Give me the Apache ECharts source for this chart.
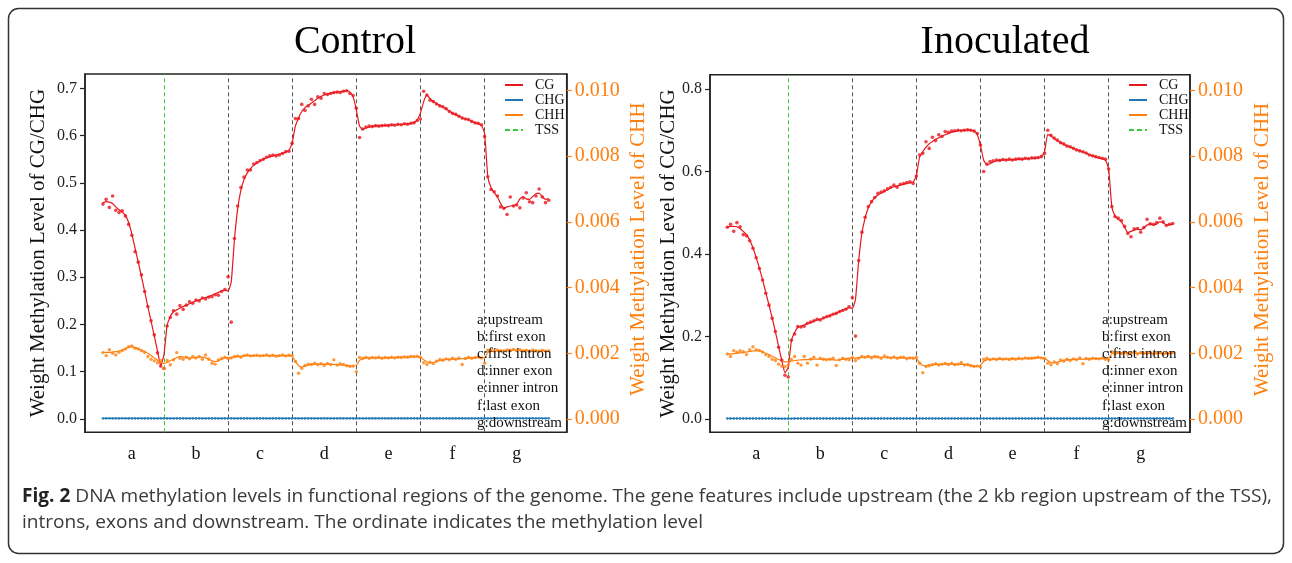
<!DOCTYPE html>
<html>
<head>
<meta charset="utf-8">
<title>DNA methylation levels in functional regions</title>
<script src="https://cdn.jsdelivr.net/npm/echarts@6/dist/echarts.min.js"></script>
<style>
  html, body { margin: 0; padding: 0; background: #ffffff; }
  #main { width: 1292px; height: 563px; }
</style>
</head>
<body>
<div id="main"></div>
<script>
// ---- Region layout along the gene model (bins 1..140, 20 bins per region) ----
const regionLetters = ['a', 'b', 'c', 'd', 'e', 'f', 'g'];
const regionNames = ['upstream', 'first exon', 'first intron', 'inner exon', 'inner intron', 'last exon', 'downstream'];
const regionCenters = [10, 30, 50, 70, 90, 110, 130];
const regionBoundaries = [20, 40, 60, 80, 100, 120];
const tssBin = 20;

// ---- Axis ticks ----
const controlCgTicks = [0, 0.1, 0.2, 0.3, 0.4, 0.5, 0.6, 0.7];
const inocCgTicks = [0, 0.2, 0.4, 0.6, 0.8];
const chhTicks = [0, 0.002, 0.004, 0.006, 0.008, 0.010];

// ---- Control: CG (measured points and fitted curve) ----
const ctrlCg = [
  0.455,0.465,0.448,0.472,0.442,0.437,0.441,0.430,0.412,0.389,0.354,0.332,0.305,0.270,0.238,0.208,0.178,0.140,0.112,0.107,
  0.197,0.215,0.229,0.222,0.240,0.232,0.241,0.248,0.245,0.252,0.250,0.256,0.254,0.258,0.259,0.263,0.262,0.270,0.274,0.301,
  0.205,0.382,0.451,0.490,0.512,0.527,0.527,0.540,0.543,0.547,0.550,0.554,0.557,0.559,0.557,0.559,0.562,0.566,0.567,0.584,
  0.636,0.636,0.666,0.653,0.663,0.677,0.666,0.682,0.679,0.689,0.687,0.689,0.691,0.692,0.691,0.694,0.695,0.689,0.685,0.658,
  0.596,0.614,0.618,0.620,0.619,0.621,0.620,0.621,0.622,0.621,0.623,0.622,0.624,0.623,0.625,0.624,0.626,0.627,0.632,0.635,
  0.694,0.686,0.675,0.672,0.667,0.663,0.661,0.657,0.651,0.647,0.645,0.641,0.637,0.635,0.634,0.630,0.627,0.626,0.623,0.598,
  0.513,0.486,0.481,0.472,0.449,0.446,0.433,0.470,0.451,0.453,0.447,0.468,0.479,0.460,0.458,0.472,0.487,0.470,0.458,0.463
];
const ctrlCgFit = [
  0.458,0.460,0.459,0.456,0.449,0.443,0.438,0.431,0.416,0.392,0.362,0.332,0.302,0.270,0.238,0.207,0.176,0.144,0.113,0.135,
  0.198,0.217,0.227,0.231,0.235,0.238,0.241,0.244,0.247,0.250,0.252,0.255,0.257,0.259,0.262,0.265,0.268,0.271,0.273,0.271,
  0.290,0.380,0.445,0.484,0.507,0.521,0.530,0.537,0.542,0.546,0.550,0.553,0.555,0.557,0.559,0.561,0.563,0.565,0.569,0.585,
  0.620,0.638,0.651,0.659,0.664,0.669,0.674,0.679,0.683,0.686,0.688,0.690,0.691,0.692,0.693,0.694,0.695,0.692,0.682,0.655,
  0.620,0.613,0.616,0.618,0.620,0.620,0.621,0.621,0.621,0.622,0.622,0.623,0.623,0.624,0.624,0.625,0.626,0.628,0.633,0.648,
  0.672,0.686,0.678,0.672,0.668,0.664,0.660,0.656,0.652,0.648,0.644,0.641,0.638,0.635,0.633,0.630,0.627,0.625,0.622,0.605,
  0.513,0.490,0.479,0.470,0.456,0.446,0.449,0.451,0.452,0.455,0.466,0.471,0.466,0.465,0.471,0.477,0.478,0.471,0.465,0.466
];

// ---- Control: CHG ----
const ctrlChg = [
  0.0012,0.0012,0.0013,0.0012,0.0012,0.0012,0.0013,0.0012,0.0012,0.0012,0.0012,0.0012,0.0013,0.0012,0.0012,0.0012,0.0012,0.0011,0.0011,0.0011,
  0.0011,0.0012,0.0012,0.0012,0.0012,0.0012,0.0012,0.0012,0.0012,0.0012,0.0012,0.0012,0.0012,0.0012,0.0012,0.0012,0.0012,0.0012,0.0012,0.0012,
  0.0012,0.0012,0.0012,0.0012,0.0012,0.0012,0.0012,0.0012,0.0012,0.0012,0.0012,0.0012,0.0012,0.0012,0.0012,0.0012,0.0012,0.0012,0.0012,0.0012,
  0.0012,0.0012,0.0012,0.0012,0.0012,0.0012,0.0012,0.0012,0.0012,0.0012,0.0012,0.0012,0.0012,0.0012,0.0012,0.0012,0.0012,0.0012,0.0012,0.0012,
  0.0012,0.0012,0.0012,0.0012,0.0012,0.0012,0.0012,0.0012,0.0012,0.0012,0.0012,0.0012,0.0012,0.0012,0.0012,0.0012,0.0012,0.0012,0.0012,0.0012,
  0.0012,0.0012,0.0012,0.0012,0.0012,0.0012,0.0012,0.0012,0.0012,0.0012,0.0012,0.0012,0.0012,0.0012,0.0012,0.0012,0.0012,0.0012,0.0012,0.0012,
  0.0013,0.0013,0.0013,0.0013,0.0013,0.0013,0.0013,0.0013,0.0013,0.0013,0.0013,0.0013,0.0013,0.0013,0.0013,0.0013,0.0013,0.0013,0.0013,0.0013
];

// ---- Control: CHH (right axis) ----
const ctrlChh = [
  0.00202,0.00193,0.00211,0.00200,0.00195,0.00203,0.00208,0.00213,0.00220,0.00222,0.00215,0.00213,0.00208,0.00203,0.00190,0.00182,0.00177,0.00171,0.00178,0.00154,
  0.00178,0.00165,0.00180,0.00202,0.00185,0.00182,0.00188,0.00183,0.00190,0.00186,0.00190,0.00182,0.00195,0.00182,0.00170,0.00167,0.00180,0.00184,0.00188,0.00184,
  0.00186,0.00190,0.00192,0.00188,0.00193,0.00195,0.00192,0.00193,0.00194,0.00192,0.00193,0.00195,0.00192,0.00194,0.00191,0.00193,0.00195,0.00192,0.00194,0.00193,
  0.00175,0.00139,0.00154,0.00163,0.00167,0.00166,0.00170,0.00165,0.00168,0.00163,0.00169,0.00166,0.00180,0.00164,0.00168,0.00166,0.00162,0.00160,0.00161,0.00144,
  0.00187,0.00184,0.00188,0.00185,0.00187,0.00186,0.00188,0.00185,0.00187,0.00186,0.00188,0.00186,0.00188,0.00187,0.00189,0.00188,0.00190,0.00190,0.00191,0.00187,
  0.00171,0.00166,0.00173,0.00169,0.00176,0.00181,0.00179,0.00183,0.00180,0.00185,0.00182,0.00186,0.00166,0.00184,0.00188,0.00185,0.00187,0.00189,0.00186,0.00170,
  0.00209,0.00211,0.00207,0.00210,0.00208,0.00206,0.00210,0.00209,0.00212,0.00208,0.00211,0.00207,0.00209,0.00205,0.00210,0.00208,0.00206,0.00209,0.00207,0.00208
];
const ctrlChhFit = [
  0.00203,0.00203,0.00203,0.00204,0.00205,0.00207,0.00210,0.00214,0.00218,0.00220,0.00218,0.00214,0.00210,0.00205,0.00200,0.00193,0.00186,0.00179,0.00173,0.00169,
  0.00172,0.00177,0.00182,0.00187,0.00190,0.00189,0.00187,0.00186,0.00186,0.00187,0.00188,0.00188,0.00186,0.00182,0.00177,0.00175,0.00177,0.00182,0.00186,0.00187,
  0.00187,0.00189,0.00190,0.00191,0.00192,0.00193,0.00193,0.00193,0.00193,0.00193,0.00193,0.00193,0.00193,0.00193,0.00193,0.00193,0.00193,0.00193,0.00193,0.00190,
  0.00176,0.00162,0.00158,0.00161,0.00164,0.00166,0.00167,0.00167,0.00167,0.00167,0.00166,0.00166,0.00166,0.00165,0.00165,0.00164,0.00163,0.00162,0.00161,0.00164,
  0.00178,0.00184,0.00186,0.00186,0.00186,0.00186,0.00186,0.00186,0.00186,0.00187,0.00187,0.00187,0.00188,0.00188,0.00188,0.00189,0.00189,0.00189,0.00190,0.00188,
  0.00180,0.00174,0.00171,0.00172,0.00175,0.00178,0.00180,0.00181,0.00182,0.00182,0.00183,0.00183,0.00184,0.00184,0.00185,0.00186,0.00186,0.00187,0.00187,0.00186,
  0.00202,0.00206,0.00207,0.00208,0.00208,0.00209,0.00209,0.00209,0.00210,0.00210,0.00209,0.00209,0.00208,0.00208,0.00208,0.00208,0.00207,0.00207,0.00207,0.00207
];

// ---- Inoculated: CG ----
const inocCg = [
  0.465,0.472,0.455,0.476,0.466,0.447,0.444,0.432,0.414,0.391,0.365,0.337,0.305,0.276,0.244,0.212,0.174,0.143,0.106,0.102,
  0.191,0.206,0.224,0.223,0.225,0.232,0.235,0.238,0.242,0.240,0.245,0.248,0.250,0.254,0.256,0.260,0.263,0.266,0.272,0.294,
  0.201,0.384,0.453,0.489,0.515,0.527,0.537,0.547,0.550,0.553,0.558,0.562,0.567,0.562,0.569,0.571,0.573,0.575,0.571,0.589,
  0.640,0.644,0.672,0.656,0.683,0.675,0.689,0.685,0.697,0.695,0.698,0.699,0.700,0.699,0.700,0.701,0.700,0.698,0.692,0.664,
  0.600,0.618,0.624,0.626,0.628,0.627,0.629,0.628,0.630,0.628,0.630,0.631,0.630,0.632,0.631,0.633,0.633,0.634,0.636,0.644,
  0.700,0.688,0.681,0.676,0.670,0.667,0.662,0.660,0.656,0.652,0.650,0.648,0.645,0.640,0.638,0.636,0.634,0.632,0.630,0.606,
  0.515,0.491,0.487,0.481,0.467,0.450,0.442,0.461,0.462,0.453,0.464,0.484,0.473,0.472,0.476,0.487,0.478,0.469,0.472,0.474
];
const inocCgFit = [
  0.466,0.467,0.467,0.466,0.462,0.455,0.447,0.434,0.415,0.392,0.366,0.338,0.307,0.277,0.245,0.212,0.176,0.142,0.112,0.125,
  0.190,0.210,0.222,0.225,0.228,0.231,0.234,0.237,0.240,0.242,0.245,0.248,0.251,0.254,0.257,0.261,0.264,0.267,0.270,0.268,
  0.290,0.384,0.450,0.487,0.512,0.526,0.536,0.543,0.548,0.552,0.556,0.560,0.563,0.565,0.567,0.569,0.571,0.573,0.574,0.590,
  0.635,0.648,0.659,0.667,0.673,0.678,0.682,0.686,0.689,0.692,0.695,0.697,0.699,0.700,0.700,0.701,0.700,0.699,0.690,0.664,
  0.628,0.616,0.619,0.623,0.626,0.627,0.628,0.628,0.628,0.629,0.629,0.630,0.630,0.631,0.631,0.632,0.632,0.633,0.636,0.648,
  0.690,0.686,0.680,0.675,0.670,0.666,0.662,0.659,0.656,0.653,0.650,0.647,0.644,0.641,0.638,0.635,0.633,0.631,0.628,0.607,
  0.515,0.492,0.484,0.478,0.465,0.452,0.455,0.458,0.460,0.459,0.464,0.470,0.473,0.470,0.473,0.478,0.476,0.471,0.471,0.472
];

// ---- Inoculated: CHG ----
const inocChg = [
  0.0012,0.0012,0.0012,0.0012,0.0012,0.0012,0.0012,0.0012,0.0012,0.0012,0.0012,0.0012,0.0012,0.0012,0.0012,0.0012,0.0011,0.0011,0.0011,0.0011,
  0.0011,0.0012,0.0012,0.0012,0.0012,0.0012,0.0012,0.0012,0.0012,0.0012,0.0012,0.0012,0.0012,0.0012,0.0012,0.0012,0.0012,0.0012,0.0012,0.0012,
  0.0012,0.0012,0.0012,0.0012,0.0012,0.0012,0.0012,0.0012,0.0012,0.0012,0.0012,0.0012,0.0012,0.0012,0.0012,0.0012,0.0012,0.0012,0.0012,0.0012,
  0.0012,0.0012,0.0012,0.0012,0.0012,0.0012,0.0012,0.0012,0.0012,0.0012,0.0012,0.0012,0.0012,0.0012,0.0012,0.0012,0.0012,0.0012,0.0012,0.0012,
  0.0012,0.0012,0.0012,0.0012,0.0012,0.0012,0.0012,0.0012,0.0012,0.0012,0.0012,0.0012,0.0012,0.0012,0.0012,0.0012,0.0012,0.0012,0.0012,0.0012,
  0.0012,0.0012,0.0012,0.0012,0.0012,0.0012,0.0012,0.0012,0.0012,0.0012,0.0012,0.0012,0.0012,0.0012,0.0012,0.0012,0.0012,0.0012,0.0012,0.0012,
  0.0013,0.0013,0.0013,0.0013,0.0013,0.0013,0.0013,0.0013,0.0013,0.0013,0.0013,0.0013,0.0013,0.0013,0.0013,0.0013,0.0013,0.0013,0.0013,0.0013
];

// ---- Inoculated: CHH (right axis) ----
const inocChh = [
  0.00198,0.00190,0.00208,0.00203,0.00208,0.00205,0.00196,0.00211,0.00220,0.00211,0.00209,0.00204,0.00196,0.00190,0.00182,0.00178,0.00167,0.00161,0.00159,0.00164,
  0.00181,0.00190,0.00170,0.00164,0.00190,0.00170,0.00182,0.00188,0.00164,0.00185,0.00182,0.00180,0.00182,0.00185,0.00163,0.00180,0.00185,0.00182,0.00180,0.00187,
  0.00178,0.00185,0.00190,0.00188,0.00191,0.00186,0.00190,0.00189,0.00185,0.00192,0.00188,0.00186,0.00189,0.00185,0.00187,0.00188,0.00183,0.00186,0.00185,0.00188,
  0.00170,0.00141,0.00160,0.00162,0.00165,0.00168,0.00164,0.00167,0.00169,0.00166,0.00170,0.00165,0.00167,0.00172,0.00164,0.00166,0.00162,0.00160,0.00161,0.00158,
  0.00182,0.00185,0.00180,0.00183,0.00181,0.00184,0.00182,0.00183,0.00181,0.00184,0.00182,0.00185,0.00183,0.00186,0.00184,0.00185,0.00186,0.00188,0.00186,0.00184,
  0.00170,0.00165,0.00174,0.00168,0.00180,0.00176,0.00182,0.00178,0.00183,0.00180,0.00186,0.00168,0.00184,0.00182,0.00185,0.00184,0.00183,0.00186,0.00182,0.00180,
  0.00205,0.00198,0.00202,0.00199,0.00203,0.00197,0.00201,0.00204,0.00198,0.00202,0.00200,0.00199,0.00203,0.00198,0.00201,0.00202,0.00197,0.00200,0.00201,0.00202
];
const inocChhFit = [
  0.00197,0.00198,0.00199,0.00200,0.00201,0.00202,0.00204,0.00206,0.00207,0.00208,0.00207,0.00204,0.00200,0.00196,0.00191,0.00186,0.00181,0.00177,0.00174,0.00174,
  0.00176,0.00178,0.00179,0.00180,0.00181,0.00181,0.00182,0.00182,0.00182,0.00182,0.00182,0.00182,0.00181,0.00180,0.00179,0.00180,0.00182,0.00184,0.00185,0.00184,
  0.00185,0.00187,0.00188,0.00188,0.00189,0.00189,0.00189,0.00188,0.00188,0.00188,0.00188,0.00187,0.00187,0.00187,0.00187,0.00186,0.00186,0.00186,0.00185,0.00184,
  0.00172,0.00163,0.00162,0.00164,0.00165,0.00166,0.00166,0.00166,0.00167,0.00167,0.00167,0.00166,0.00166,0.00166,0.00166,0.00165,0.00163,0.00161,0.00161,0.00164,
  0.00175,0.00180,0.00182,0.00182,0.00182,0.00182,0.00182,0.00182,0.00183,0.00183,0.00183,0.00183,0.00184,0.00184,0.00185,0.00185,0.00186,0.00186,0.00187,0.00185,
  0.00178,0.00172,0.00171,0.00173,0.00176,0.00179,0.00180,0.00181,0.00181,0.00182,0.00182,0.00182,0.00183,0.00183,0.00184,0.00184,0.00184,0.00184,0.00184,0.00185,
  0.00199,0.00201,0.00201,0.00201,0.00201,0.00201,0.00201,0.00201,0.00200,0.00200,0.00200,0.00200,0.00200,0.00200,0.00200,0.00200,0.00200,0.00200,0.00200,0.00200
];

// ---- Figure caption ----
const captionLabel = 'Fig. 2';
const captionLine1 = 'DNA methylation levels in functional regions of the genome. The gene features include upstream (the 2 kb region upstream of the TSS),';
const captionLine2 = 'introns, exons and downstream. The ordinate indicates the methylation level';

// ---- Styling ----
const SERIF = '"Liberation Serif", "DejaVu Serif", serif';
const SANS = '"Liberation Sans Narrow", "Open Sans", "Noto Sans", sans-serif';
const CG_COLOR = '#e8161d';
const CHG_COLOR = '#1f77b4';
const CHH_COLOR = '#ff7f0e';
const TSS_COLOR = '#3dc43d';
const FRAME_COLOR = '#222222';

const panels = [
  {
    title: 'Control', titleX: 355,
    grid: { left: 85, top: 74, width: 481.7, height: 358.3 },
    xRange: [-4.6, 145.6],
    cgRange: [-0.0282, 0.7304], cgTicks: controlCgTicks,
    chhRange: [-0.000405, 0.0105],
    cg: ctrlCg, cgFit: ctrlCgFit, chg: ctrlChg, chh: ctrlChh, chhFit: ctrlChhFit,
    leftNameX: 38, rightNameX: 638, legendLeft: 504, noteLeft: 477
  },
  {
    title: 'Inoculated', titleX: 1005,
    grid: { left: 710, top: 74.7, width: 480, height: 357.6 },
    xRange: [-4.4, 145.4],
    cgRange: [-0.0322, 0.8347], cgTicks: inocCgTicks,
    chhRange: [-0.000405, 0.01048],
    cg: inocCg, cgFit: inocCgFit, chg: inocChg, chh: inocChh, chhFit: inocChhFit,
    leftNameX: 668, rightNameX: 1262, legendLeft: 1128, noteLeft: 1102
  }
];

const toPairs = arr => arr.map((v, i) => [i + 1, v]);

const grids = [], xAxes = [], yAxes = [], series = [], legends = [], graphics = [];

panels.forEach((p, k) => {
  grids.push(Object.assign({ show: true, borderColor: FRAME_COLOR, borderWidth: 1.5, backgroundColor: 'transparent', containLabel: false }, p.grid));

  xAxes.push({
    type: 'value', gridIndex: k, min: p.xRange[0], max: p.xRange[1],
    axisLine: { show: false }, axisTick: { show: false }, splitLine: { show: false },
    axisLabel: {
      customValues: regionCenters,
      formatter: v => regionLetters[regionCenters.indexOf(v)] || '',
      fontFamily: SERIF, fontSize: 18, color: '#111', margin: 13
    }
  });

  yAxes.push({
    type: 'value', gridIndex: k, position: 'left', min: p.cgRange[0], max: p.cgRange[1],
    axisLine: { show: true, onZero: false, lineStyle: { color: FRAME_COLOR, width: 1.5 } },
    splitLine: { show: false },
    axisTick: { show: true, inside: false, customValues: p.cgTicks, length: 5, lineStyle: { color: FRAME_COLOR, width: 1.2 } },
    axisLabel: { customValues: p.cgTicks, formatter: v => v.toFixed(1), fontFamily: SERIF, fontSize: 16, color: '#222', margin: 8 }
  });
  yAxes.push({
    type: 'value', gridIndex: k, position: 'right', min: p.chhRange[0], max: p.chhRange[1],
    axisLine: { show: true, onZero: false, lineStyle: { color: FRAME_COLOR, width: 1.5 } },
    splitLine: { show: false },
    axisTick: { show: true, inside: false, customValues: chhTicks, length: 5, lineStyle: { color: CHH_COLOR, width: 1.2 } },
    axisLabel: { customValues: chhTicks, formatter: v => v.toFixed(3), fontFamily: SERIF, fontSize: 20, color: CHH_COLOR, margin: 8 }
  });

  const yl = 2 * k, yr = 2 * k + 1;

  // Region boundaries (TSS in green) drawn with the CG curve
  series.push({
    name: 'CG', type: 'line', xAxisIndex: k, yAxisIndex: yl, data: toPairs(p.cgFit),
    symbol: 'none', smooth: 0.15, z: 4,
    lineStyle: { color: CG_COLOR, width: 1.2 }, itemStyle: { color: CG_COLOR },
    markLine: {
      silent: true, symbol: ['none', 'none'], label: { show: false }, z: 1,
      data: regionBoundaries.map(b => ({
        xAxis: b,
        lineStyle: { color: b === tssBin ? TSS_COLOR : '#555555', type: [4, 3], width: 1 }
      }))
    }
  });
  series.push({
    name: 'CG points', type: 'scatter', xAxisIndex: k, yAxisIndex: yl, data: toPairs(p.cg),
    symbol: 'circle', symbolSize: 3.6, itemStyle: { color: CG_COLOR }, z: 5
  });
  series.push({
    name: 'CHG', type: 'line', xAxisIndex: k, yAxisIndex: yl, data: toPairs(p.chg),
    symbol: 'none', z: 4, lineStyle: { color: CHG_COLOR, width: 1.2 }, itemStyle: { color: CHG_COLOR }
  });
  series.push({
    name: 'CHG points', type: 'scatter', xAxisIndex: k, yAxisIndex: yl, data: toPairs(p.chg),
    symbol: 'circle', symbolSize: 2.8, itemStyle: { color: CHG_COLOR }, z: 5
  });
  series.push({
    name: 'CHH', type: 'line', xAxisIndex: k, yAxisIndex: yr, data: toPairs(p.chhFit),
    symbol: 'none', smooth: 0.15, z: 4, lineStyle: { color: CHH_COLOR, width: 1.2 }, itemStyle: { color: CHH_COLOR }
  });
  series.push({
    name: 'CHH points', type: 'scatter', xAxisIndex: k, yAxisIndex: yr, data: toPairs(p.chh),
    symbol: 'circle', symbolSize: 3.4, itemStyle: { color: CHH_COLOR }, z: 5
  });
  series.push({
    name: 'TSS', type: 'line', xAxisIndex: k, yAxisIndex: yl, data: [],
    symbol: 'none', lineStyle: { color: TSS_COLOR, width: 1.5, type: [5, 3] }, itemStyle: { color: TSS_COLOR }
  });

  legends.push({
    data: ['CG', 'CHG', 'CHH', 'TSS'], orient: 'vertical', left: p.legendLeft, top: 78,
    itemWidth: 18, itemHeight: 10, itemGap: 1, selectedMode: false, padding: 0,
    itemStyle: { opacity: 0 },
    textStyle: { fontFamily: SERIF, fontSize: 14, color: '#111', lineHeight: 14, padding: [0, 0, 0, 7] }
  });

  // Panel title
  graphics.push({
    type: 'text', x: p.titleX, y: 42, z: 10,
    style: { text: p.title, font: '40px ' + SERIF, fill: '#000', align: 'center', verticalAlign: 'middle' }
  });
  // Axis names
  const midY = p.grid.top + p.grid.height / 2;
  graphics.push({
    type: 'text', x: p.leftNameX, y: midY, rotation: Math.PI / 2, z: 10,
    style: { text: 'Weight Methylation Level of CG/CHG', font: '21px ' + SERIF, fill: '#111', align: 'center', verticalAlign: 'middle' }
  });
  graphics.push({
    type: 'text', x: p.rightNameX, y: midY - 4, rotation: Math.PI / 2, z: 10,
    style: { text: 'Weight Methylation Level of CHH', font: '21px ' + SERIF, fill: CHH_COLOR, align: 'center', verticalAlign: 'middle' }
  });
  // Region key
  graphics.push({
    type: 'text', x: p.noteLeft, y: 311, z: 20,
    style: {
      text: regionLetters.map((l, i) => l + ':' + regionNames[i]).join('\n'),
      font: '15px ' + SERIF, fill: '#111', lineHeight: 17.2, align: 'left', verticalAlign: 'top'
    }
  });
});

// Caption, condensed horizontally to span the figure width
const CAP_SIZE = 19;
const measureCtx = document.createElement('canvas').getContext('2d');
measureCtx.font = 'bold ' + CAP_SIZE + 'px ' + SANS;
const wBold = measureCtx.measureText(captionLabel).width;
measureCtx.font = CAP_SIZE + 'px ' + SANS;
const wRest = measureCtx.measureText(' ' + captionLine1).width;
const capScale = 1250 / (wBold + wRest);

graphics.push({
  type: 'text', x: 22, y: 497, scaleX: capScale, z: 10,
  style: {
    text: '{b|' + captionLabel + '} ' + captionLine1,
    font: CAP_SIZE + 'px ' + SANS, fill: '#3a3a3a', verticalAlign: 'middle', align: 'left',
    rich: { b: { fontWeight: 'bold', fontSize: CAP_SIZE, fontFamily: SANS, fill: '#222' } }
  }
});
graphics.push({
  type: 'text', x: 22, y: 523, scaleX: capScale, z: 10,
  style: { text: captionLine2, font: CAP_SIZE + 'px ' + SANS, fill: '#3a3a3a', verticalAlign: 'middle', align: 'left' }
});

// Figure frame
graphics.push({
  type: 'rect', z: 0, silent: true,
  shape: { x: 8.5, y: 8.5, width: 1275, height: 545, r: 10 },
  style: { fill: 'none', stroke: '#333', lineWidth: 1.5 }
});

const chart = echarts.init(document.getElementById('main'), null, { renderer: 'canvas', width: 1292, height: 563 });
chart.setOption({
  animation: false,
  backgroundColor: '#ffffff',
  grid: grids,
  xAxis: xAxes,
  yAxis: yAxes,
  legend: legends,
  series: series,
  graphic: { elements: graphics }
});
</script>
</body>
</html>
